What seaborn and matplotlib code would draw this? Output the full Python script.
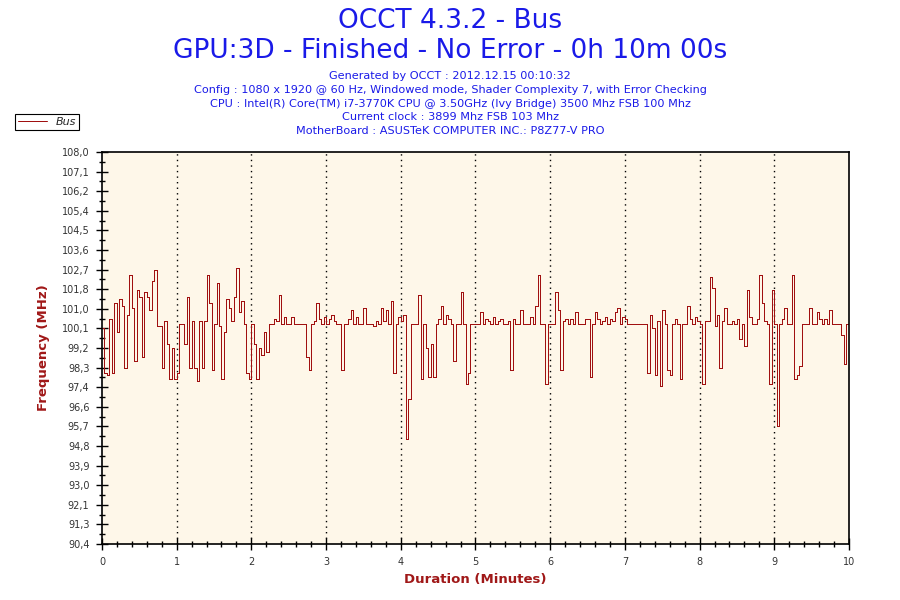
import numpy as np
import pandas as pd
import matplotlib
matplotlib.use("Agg")
import matplotlib.pyplot as plt
import seaborn as sns
from matplotlib.ticker import MultipleLocator, FixedLocator

# Bus clock readings (MHz), one every 2 s, grouped per minute
min0 = [100.1, 98.1, 98.0, 100.5, 98.1, 101.2, 99.9, 101.4, 101.1, 98.3,
        100.7, 102.5, 101.0, 98.6, 101.8, 101.5, 98.8, 101.7, 101.5, 100.9,
        102.2, 102.7, 100.2, 100.2, 98.3, 100.4, 99.4, 97.8, 99.2, 97.8]
min1 = [98.1, 100.3, 100.3, 99.4, 101.5, 98.3, 100.4, 98.3, 97.7, 100.4,
        98.3, 100.4, 102.5, 101.2, 98.2, 100.3, 102.1, 100.2, 97.8, 99.9,
        101.4, 101.0, 100.4, 101.5, 102.8, 100.8, 101.3, 100.3, 98.1, 97.8]
min2 = [100.3, 99.4, 97.8, 99.2, 98.9, 99.9, 99.0, 100.3, 100.3, 100.5,
        100.4, 101.6, 100.3, 100.6, 100.3, 100.3, 100.6, 100.3, 100.3, 100.3,
        100.3, 100.3, 98.8, 98.2, 100.3, 100.4, 101.2, 100.5, 100.3, 100.6]
min3 = [100.3, 100.5, 100.7, 100.4, 100.3, 100.3, 98.2, 100.3, 100.3, 100.5,
        100.9, 100.3, 100.6, 100.3, 100.3, 101.0, 100.3, 100.3, 100.3, 100.2,
        100.4, 100.3, 101.0, 100.4, 100.9, 100.3, 101.3, 98.1, 100.3, 100.6]
min4 = [100.4, 100.7, 95.1, 96.9, 100.3, 100.3, 100.3, 101.6, 97.8, 100.3,
        99.2, 97.9, 99.4, 97.9, 100.3, 100.5, 101.1, 100.3, 100.7, 100.5,
        100.3, 98.6, 100.3, 100.3, 101.7, 100.3, 97.6, 98.1, 100.3, 100.3]
min5 = [100.3, 100.3, 100.8, 100.3, 100.5, 100.4, 100.3, 100.6, 100.3, 100.4,
        100.5, 100.3, 100.3, 100.4, 98.2, 100.5, 100.3, 100.3, 100.9, 100.3,
        100.3, 100.3, 100.6, 100.3, 101.1, 102.5, 100.3, 100.3, 97.6, 100.3]
min6 = [100.3, 100.3, 101.7, 100.9, 98.2, 100.4, 100.5, 100.3, 100.5, 100.3,
        100.8, 100.3, 100.3, 100.3, 100.5, 100.5, 97.9, 100.3, 100.8, 100.5,
        100.3, 100.4, 100.6, 100.3, 100.5, 100.4, 100.8, 101.0, 100.3, 100.6]
min7 = [100.5, 100.3, 100.3, 100.3, 100.3, 100.3, 100.3, 100.3, 100.3, 98.1,
        100.7, 100.1, 98.0, 100.4, 97.5, 100.9, 100.3, 98.2, 98.0, 100.3,
        100.5, 100.3, 97.8, 100.3, 100.3, 101.1, 100.5, 100.3, 100.6, 100.4]
min8 = [100.3, 97.6, 100.4, 100.4, 102.4, 101.9, 100.2, 100.7, 98.3, 100.4,
        101.0, 100.3, 100.3, 100.4, 100.3, 100.5, 99.6, 100.3, 99.3, 101.8,
        100.6, 100.3, 100.3, 100.5, 102.5, 101.2, 100.4, 100.3, 97.6, 101.8]
min9 = [100.3, 95.7, 100.3, 100.5, 101.0, 100.3, 100.3, 102.5, 97.8, 98.0,
        98.4, 100.3, 100.3, 100.3, 101.0, 100.3, 100.3, 100.8, 100.5, 100.3,
        100.5, 100.3, 100.9, 100.3, 100.3, 100.3, 100.3, 99.8, 98.5, 100.3]

ytick_vals = [90.4, 91.28, 92.16, 93.04, 93.92, 94.8, 95.68, 96.56, 97.44, 98.32, 99.2,
              100.08, 100.96, 101.84, 102.72, 103.6, 104.48, 105.36, 106.24, 107.12, 108.0]
ytick_labels = ["90,4", "91,3", "92,1", "93,0", "93,9", "94,8", "95,7", "96,6", "97,4", "98,3", "99,2",
                "100,1", "101,0", "101,8", "102,7", "103,6", "104,5", "105,4", "106,2", "107,1", "108,0"]
xtick_vals = list(range(0, 11))

title1 = "OCCT 4.3.2 - Bus"
title2 = "GPU:3D - Finished - No Error - 0h 10m 00s"
info_lines = [
    "Generated by OCCT : 2012.12.15 00:10:32",
    "Config : 1080 x 1920 @ 60 Hz, Windowed mode, Shader Complexity 7, with Error Checking",
    "CPU : Intel(R) Core(TM) i7-3770K CPU @ 3.50GHz (Ivy Bridge) 3500 Mhz FSB 100 Mhz",
    "Current clock : 3899 Mhz FSB 103 Mhz",
    "MotherBoard : ASUSTeK COMPUTER INC.: P8Z77-V PRO",
]

values = np.array(min0 + min1 + min2 + min3 + min4 + min5 + min6 + min7 + min8 + min9)
values = np.append(values, values[-1])  # hold last reading to the end of the run
df = pd.DataFrame({"minutes": np.arange(len(values)) * 2 / 60.0, "Bus": values})

line_col = "#A01010"
label_col = "#A01818"
blue = "#1A1AE8"

sns.set_theme(style="white")
plt.rcParams["font.family"] = ["DejaVu Sans"]

fig = plt.figure(figsize=(9, 6), dpi=100)
ax = fig.add_axes([0.1133, 0.0933, 0.83, 0.6533])
ax.set_facecolor("#FEF7E9")

# 1 px wide, crisp steps like the original OCCT graph
sns.lineplot(data=df, x="minutes", y="Bus", ax=ax, color=line_col, lw=0.72,
             drawstyle="steps-post", estimator=None, sort=False, label="Bus",
             antialiased=False)

ax.set_xlim(0, 10)
ax.set_ylim(90.4, 108.0)
ax.yaxis.set_major_locator(FixedLocator(ytick_vals))
ax.set_yticklabels(ytick_labels)
ax.yaxis.set_minor_locator(FixedLocator([v + 0.44 for v in ytick_vals[:-1]]))
ax.xaxis.set_major_locator(FixedLocator(xtick_vals))
ax.set_xticklabels([str(v) for v in xtick_vals])
ax.xaxis.set_minor_locator(MultipleLocator(0.2))

ax.tick_params(axis="both", which="major", direction="inout", length=8, width=1,
               color="black", labelsize=7, labelcolor="#333333", pad=5)
ax.tick_params(axis="both", which="minor", direction="inout", length=5, width=1, color="black")
ax.tick_params(axis="x", which="both", bottom=True)
ax.tick_params(axis="y", which="both", left=True)

for v in xtick_vals[1:-1]:
    ax.axvline(v, color="black", lw=1, ls=(0, (1, 3)), zorder=0)

for side in ["left", "bottom", "top", "right"]:
    ax.spines[side].set_visible(True)
    ax.spines[side].set_color("black")
    ax.spines[side].set_linewidth(1.2)

ax.set_xlabel("Duration (Minutes)", color=label_col, fontsize=9.5, fontweight="bold", labelpad=5)
ax.set_ylabel("Frequency (MHz)", color=label_col, fontsize=9.5, fontweight="bold", labelpad=8)

handles, labels = ax.get_legend_handles_labels()
ax.get_legend().remove()
leg = fig.legend(handles, labels, loc="upper left", bbox_to_anchor=(15 / 900, 1 - 114 / 600),
                 borderaxespad=0, frameon=True, fancybox=False, framealpha=1, edgecolor="black",
                 handlelength=2.6, handletextpad=0.8, borderpad=0.25, fontsize=8)
leg.get_frame().set_linewidth(0.8)
for t in leg.get_texts():
    t.set_fontstyle("italic")

fig.text(0.5, 1 - 21 / 600, title1, ha="center", va="center", color=blue, fontsize=19)
fig.text(0.5, 1 - 51 / 600, title2, ha="center", va="center", color=blue, fontsize=19)
for i, line in enumerate(info_lines):
    fig.text(0.5, 1 - (76 + 13.8 * i) / 600, line, ha="center", va="center", color=blue, fontsize=8.1)

fig.savefig("out.png", dpi=100, facecolor="white")
